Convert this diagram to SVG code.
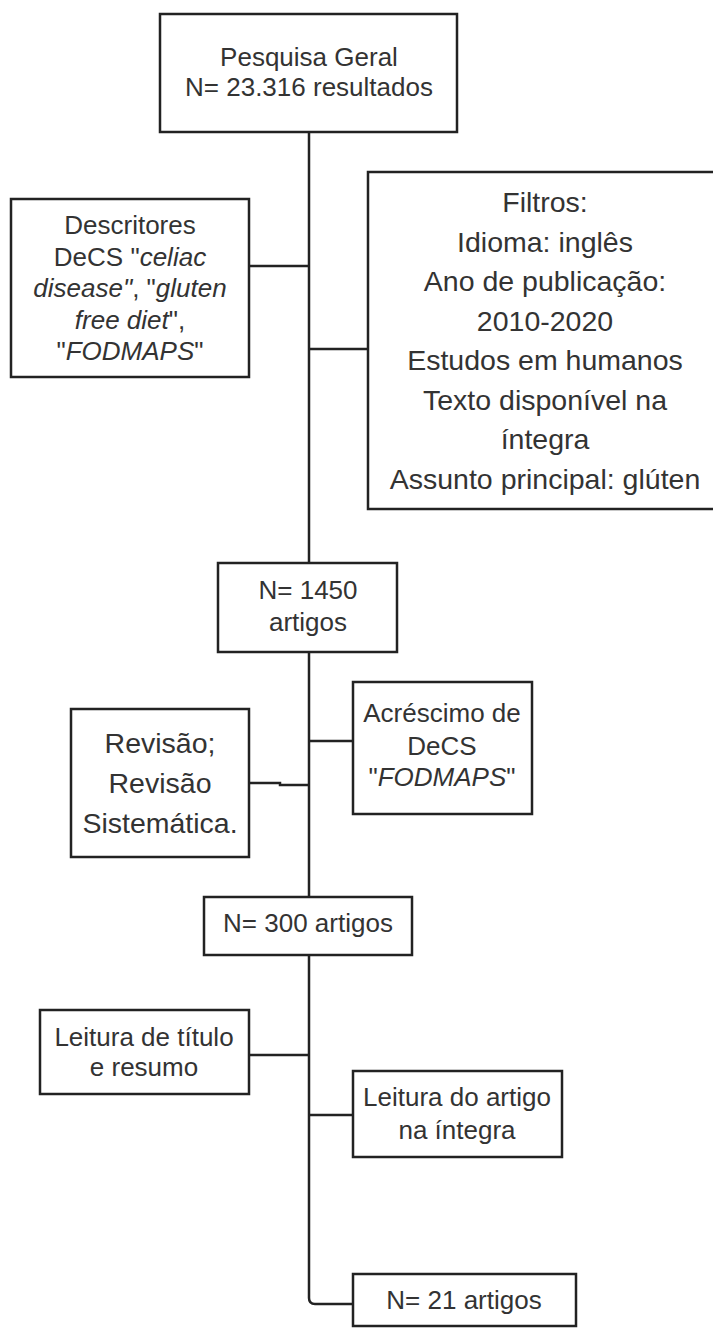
<svg xmlns="http://www.w3.org/2000/svg" width="713" height="1328" viewBox="0 0 713 1328">
<style>
rect{fill:#fff;stroke:#222;stroke-width:2.5}
.c{fill:none;stroke:#222;stroke-width:2.5}
text{font-family:"Liberation Sans",Arial,sans-serif;fill:#333;text-anchor:middle}
.f26{font-size:26px}
.f28{font-size:28.5px}
.i{font-style:italic}
</style>
<g id="connectors">
<path class="c" d="M309,132V563M309,652V897M309,955V1298Q309,1304 315,1304H353"/>
<path class="c" d="M249,266H309M309,349H368"/>
<path class="c" d="M249,783H280V785H309M309,741H353"/>
<path class="c" d="M249,1055H309M309,1115H353"/>
</g>
<g id="pesquisa">
<rect x="160" y="14" width="297" height="118"/>
<text class="f26" x="309" y="66">Pesquisa Geral</text>
<text class="f26" x="309" y="96">N= 23.316 resultados</text>
</g>
<g id="descritores">
<rect x="11" y="199" width="238" height="178"/>
<text class="f26" x="130" y="234">Descritores</text>
<text class="f26" x="130" y="265.5">DeCS "<tspan class="i">celiac</tspan></text>
<text class="f26" x="130" y="297"><tspan class="i">disease"</tspan>, "<tspan class="i">gluten</tspan></text>
<text class="f26" x="130" y="328.5"><tspan class="i">free diet</tspan>",</text>
<text class="f26" x="130" y="360">"<tspan class="i">FODMAPS</tspan>"</text>
</g>
<g id="filtros">
<rect x="368" y="172" width="360" height="337"/>
<text class="f28" x="545" y="212">Filtros:</text>
<text class="f28" x="545" y="252">Idioma: inglês</text>
<text class="f28" x="545" y="291">Ano de publicação:</text>
<text class="f28" x="545" y="331">2010-2020</text>
<text class="f28" x="545" y="370">Estudos em humanos</text>
<text class="f28" x="545" y="410">Texto disponível na</text>
<text class="f28" x="545" y="449">íntegra</text>
<text class="f28" x="545" y="489">Assunto principal: glúten</text>
</g>
<g id="n1450">
<rect x="218" y="563" width="179" height="89"/>
<text class="f26" x="308" y="599">N= 1450</text>
<text class="f26" x="308" y="631">artigos</text>
</g>
<g id="acrescimo">
<rect x="353" y="682" width="179" height="132"/>
<text class="f26" x="442" y="722">Acréscimo de</text>
<text class="f26" x="442" y="755">DeCS</text>
<text class="f26" x="442" y="786">"<tspan class="i">FODMAPS</tspan>"</text>
</g>
<g id="revisao">
<rect x="71" y="709" width="178" height="148"/>
<text class="f28" x="160" y="753">Revisão;</text>
<text class="f28" x="160" y="793">Revisão</text>
<text class="f28" x="160" y="833">Sistemática.</text>
</g>
<g id="n300">
<rect x="204" y="897" width="208" height="58"/>
<text class="f26" x="308" y="932">N= 300 artigos</text>
</g>
<g id="titulo">
<rect x="40" y="1010" width="209" height="84"/>
<text class="f26" x="144" y="1046">Leitura de título</text>
<text class="f26" x="144" y="1076">e resumo</text>
</g>
<g id="integra">
<rect x="353" y="1071" width="209" height="86"/>
<text class="f26" x="457" y="1106">Leitura do artigo</text>
<text class="f26" x="457" y="1139">na íntegra</text>
</g>
<g id="n21">
<rect x="353" y="1274" width="223" height="52"/>
<text class="f26" x="464" y="1309">N= 21 artigos</text>
</g>
</svg>
